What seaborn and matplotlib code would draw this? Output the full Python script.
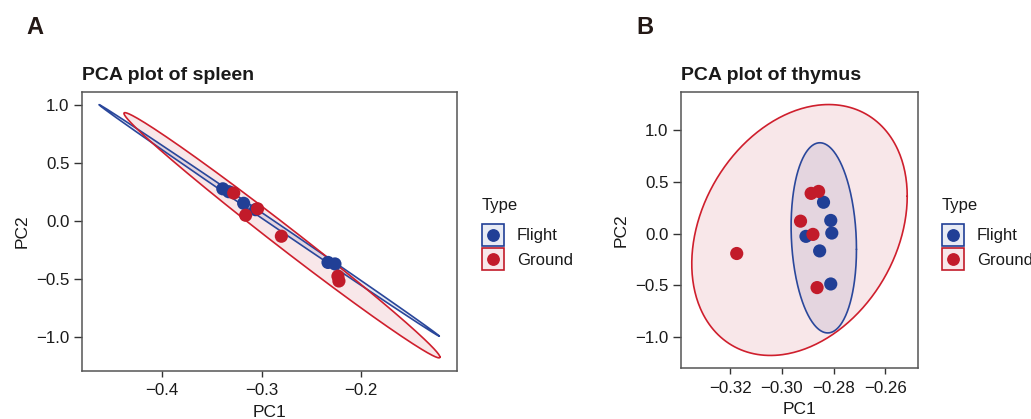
import numpy as np
import pandas as pd
import matplotlib
matplotlib.use("Agg")
import matplotlib.pyplot as plt
import seaborn as sns
from matplotlib.colors import to_rgba
from matplotlib.patches import Rectangle
from matplotlib.lines import Line2D
from matplotlib.legend_handler import HandlerBase

# ---- data -------------------------------------------------------------
types = ["Flight", "Ground"]

spleen_flight_pc1 = [-0.339, -0.333, -0.318, -0.306, -0.233, -0.226]
spleen_flight_pc2 = [0.280, 0.255, 0.155, 0.100, -0.355, -0.368]
spleen_ground_pc1 = [-0.328, -0.316, -0.304, -0.280, -0.223, -0.222]
spleen_ground_pc2 = [0.244, 0.052, 0.108, -0.129, -0.474, -0.515]

thymus_flight_pc1 = [-0.2839, -0.2811, -0.2807, -0.2907, -0.2854, -0.2811]
thymus_flight_pc2 = [0.304, 0.128, 0.006, -0.026, -0.167, -0.487]
thymus_ground_pc1 = [-0.2887, -0.2858, -0.2928, -0.2880, -0.3175, -0.2864]
thymus_ground_pc2 = [0.390, 0.409, 0.121, -0.007, -0.192, -0.522]

# 95% ellipses per group: centre, half-extents along PC1/PC2, correlation
spleen_ell_cx = [-0.2923, -0.2794]
spleen_ell_cy = [0.0075, -0.1205]
spleen_ell_sx = [0.1714, 0.1592]
spleen_ell_sy = [0.9985, 1.0575]
spleen_ell_r = [-0.9997, -0.9939]

thymus_ell_cx = [-0.2838, -0.2932]
thymus_ell_cy = [-0.0405, 0.0355]
thymus_ell_sx = [0.01265, 0.0417]
thymus_ell_sy = [0.9205, 1.2145]
thymus_ell_r = [-0.12, 0.27]

spleen_xticks = [-0.4, -0.3, -0.2]
thymus_xticks = [-0.32, -0.30, -0.28, -0.26]
pc2_ticks = [-1.0, -0.5, 0.0, 0.5, 1.0]

# ---- style ------------------------------------------------------------
sns.set_style("white")
plt.rcParams["font.family"] = ["Liberation Sans", "DejaVu Sans"]
plt.rcParams["axes.unicode_minus"] = True

palette = {"Flight": "#213F96", "Ground": "#C21B2A"}
line_cols = {"Flight": "#2A479B", "Ground": "#CF1F2D"}
txt = "#1a1a1a"


def frame(pc1_f, pc2_f, pc1_g, pc2_g):
    return pd.DataFrame({
        "PC1": list(pc1_f) + list(pc1_g),
        "PC2": list(pc2_f) + list(pc2_g),
        "Type": ["Flight"] * len(pc1_f) + ["Ground"] * len(pc1_g),
    })


def ellipse_xy(cx, cy, sx, sy, r, n=361):
    t = np.linspace(0, 2 * np.pi, n)
    x = cx + sx * np.cos(t)
    y = cy + sy * (r * np.cos(t) + np.sqrt(1 - r ** 2) * np.sin(t))
    return x, y


def minus_fmt(decimals):
    return matplotlib.ticker.FuncFormatter(
        lambda v, p: f"{v:.{decimals}f}".replace("-", "\u2212"))


def draw_panel(ax, df, cxs, cys, sxs, sys_, rs, title, xticks, xdec):
    xs_all, ys_all = [], []
    for i, g in enumerate(types):
        ex, ey = ellipse_xy(cxs[i], cys[i], sxs[i], sys_[i], rs[i])
        xs_all.append(ex)
        ys_all.append(ey)
        ax.fill(ex, ey, facecolor=to_rgba(palette[g], 0.1), edgecolor="none", zorder=1)
        ax.plot(ex, ey, color=line_cols[g], lw=1.2, zorder=2)
    sns.scatterplot(data=df, x="PC1", y="PC2", hue="Type", hue_order=types,
                    palette=palette, s=90, linewidth=0, legend=False,
                    ax=ax, zorder=3)
    xs_all = np.concatenate(xs_all + [df["PC1"].values])
    ys_all = np.concatenate(ys_all + [df["PC2"].values])
    dx = 0.05 * (xs_all.max() - xs_all.min())
    dy = 0.05 * (ys_all.max() - ys_all.min())
    ax.set_xlim(xs_all.min() - dx, xs_all.max() + dx)
    ax.set_ylim(ys_all.min() - dy, ys_all.max() + dy)
    ax.set_xticks(xticks)
    ax.set_yticks(pc2_ticks)
    ax.xaxis.set_major_formatter(minus_fmt(xdec))
    ax.yaxis.set_major_formatter(minus_fmt(1))
    ax.tick_params(axis="x", length=4.5, width=1.0, pad=4.5, labelsize=12.2,
                   colors="#333333", labelcolor=txt, direction="out", bottom=True)
    ax.tick_params(axis="y", length=5.5, width=1.0, pad=3.5, labelsize=12.2,
                   colors="#333333", labelcolor=txt, direction="out", left=True)
    for sp in ax.spines.values():
        sp.set_color("#555555")
        sp.set_linewidth(1.1)
    ax.set_xlabel("PC1", fontsize=12.5, color=txt, labelpad=5)
    ax.set_ylabel("PC2", fontsize=12.5, color=txt, labelpad=5)
    ax.set_title(title, loc="left", fontsize=14, fontweight="bold", color=txt, pad=8.5)
    ax.grid(False)


class KeyBox(HandlerBase):
    def create_artists(self, legend, orig_handle, xdescent, ydescent,
                       width, height, fontsize, trans):
        c = orig_handle.get_color()
        side = width
        cy = height / 2 - ydescent
        x0 = -xdescent
        box = Rectangle((x0, cy - side / 2), side, side,
                        facecolor=to_rgba(c, 0.1), edgecolor=c, lw=1.2,
                        transform=trans)
        dot = Line2D([x0 + side / 2], [cy], marker="o", ms=8.2, color=c,
                     linestyle="", transform=trans)
        return [box, dot]


def add_legend(fig, x_px, y_px):
    handles = [Line2D([], [], color=palette[g]) for g in types]
    leg = fig.legend(handles, types, title="Type", loc="upper left",
                     bbox_to_anchor=(x_px / W, 1 - y_px / H),
                     frameon=False, fontsize=12, title_fontsize=12,
                     alignment="left", borderpad=0, borderaxespad=0,
                     handlelength=1.36, handleheight=1.36,
                     handletextpad=0.75, labelspacing=0.32,
                     handler_map={Line2D: KeyBox()})
    leg._legend_box.sep = 9
    for t in leg.get_texts():
        t.set_color(txt)
    leg.get_title().set_color(txt)
    return leg


W, H = 1031, 419
fig = plt.figure(figsize=(W / 100, H / 100), dpi=100)
fig.patch.set_facecolor("white")

axA = fig.add_axes([82 / W, (H - 370.5) / H, 375 / W, 278.5 / H])
axB = fig.add_axes([681 / W, (H - 368) / H, 237 / W, 276 / H])

draw_panel(axA,
           frame(spleen_flight_pc1, spleen_flight_pc2, spleen_ground_pc1, spleen_ground_pc2),
           spleen_ell_cx, spleen_ell_cy, spleen_ell_sx, spleen_ell_sy, spleen_ell_r,
           "PCA plot of spleen", spleen_xticks, 1)
draw_panel(axB,
           frame(thymus_flight_pc1, thymus_flight_pc2, thymus_ground_pc1, thymus_ground_pc2),
           thymus_ell_cx, thymus_ell_cy, thymus_ell_sx, thymus_ell_sy, thymus_ell_r,
           "PCA plot of thymus", thymus_xticks, 2)

add_legend(fig, 481.5, 198)
add_legend(fig, 941.5, 198)

fig.text(26 / W, 1 - 27 / H, "A", fontsize=17, fontweight="bold",
         color="#231815", ha="left", va="center")
fig.text(636 / W, 1 - 27 / H, "B", fontsize=17, fontweight="bold",
         color="#231815", ha="left", va="center")

fig.savefig("out.png", dpi=100, facecolor="white")
